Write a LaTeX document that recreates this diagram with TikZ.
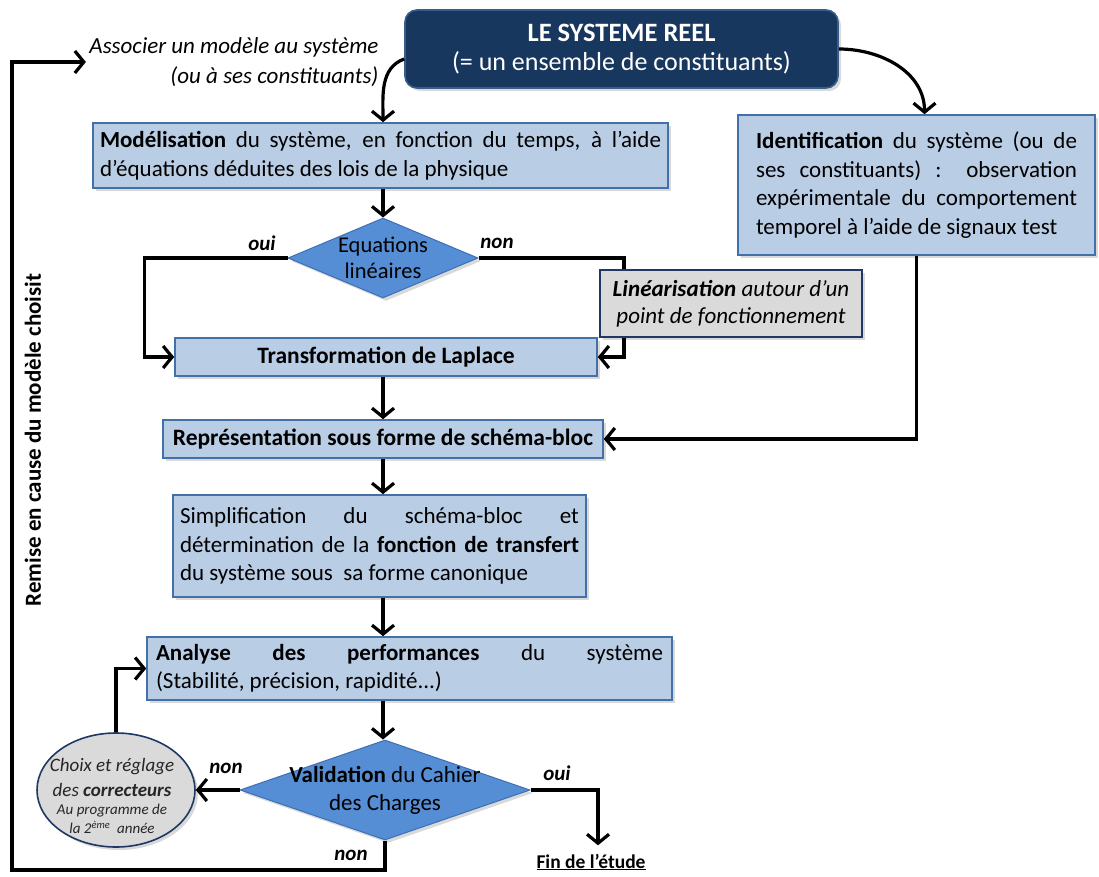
\documentclass[tikz,border=0pt]{standalone}
\usepackage{fontspec}
\setmainfont{Carlito}
\usetikzlibrary{arrows.meta,shapes.geometric,shadows}
\definecolor{navy}{HTML}{17375E}
\definecolor{navyedge}{HTML}{385D8A}
\definecolor{boxfill}{HTML}{B9CDE5}
\definecolor{boxedge}{HTML}{4470A8}
\definecolor{diafill}{HTML}{558ED5}
\definecolor{diaedge}{HTML}{3C6FB5}
\definecolor{greyfill}{HTML}{DADADA}
\definecolor{greyedge}{HTML}{1F3864}
\begin{document}
\begin{tikzpicture}[x=1pt,y=-1pt,
  shad/.style={drop shadow={shadow xshift=3pt,shadow yshift=-3pt,opacity=0.3}},
  bluebox/.style={draw=boxedge, fill=boxfill, line width=1.6pt, shad, inner ysep=0pt,
    font=\fontsize{23}{28.5}\selectfont},
  navybox/.style={draw=navyedge, fill=navy, line width=1.6pt, rounded corners=12pt, shad,
    text=white, align=center, font=\fontsize{26}{29}\selectfont},
  greybox/.style={draw=greyedge, fill=greyfill, line width=1.6pt, shad},
  decision/.style={diamond, draw=diaedge, fill=diafill, line width=1pt, inner sep=0pt, shad},
  dtext/.style={align=center},
  conn/.style={line width=3.2pt},
  arr/.style={line width=3.2pt, -{Straight Barb[length=9pt,width=22pt,line width=3.2pt]}},
  lab/.style={font=\fontsize{21}{24}\selectfont\bfseries\itshape}
]
\useasboundingbox (0,0) rectangle (1099,877);
\coordinate (col) at (383,0);
\coordinate (rx) at (624,0);
\coordinate (bl) at (12,870);

% nodes
\node[navybox, minimum width=433pt, minimum height=78pt] (sys) at (621.5,49)
  {{\fontsize{26.5}{29}\selectfont\bfseries LE SYSTEME REEL}\\(= un ensemble de constituants)};

\node[anchor=east, align=right, font=\fontsize{23}{30}\selectfont\itshape] (assoc) at (382,62)
  {Associer un modèle au système\\(ou à ses constituants)};

\node[bluebox, text width=561pt, inner xsep=7pt, minimum height=65pt, align=justify] (mod) at (380.5,155.5)
  {\textbf{Modélisation} du système, en fonction du temps, à l’aide\linebreak d’équations déduites des lois de la physique};

\node[bluebox, text width=321pt, inner xsep=18pt, minimum height=140pt, align=justify] (iden) at (916.5,185)
  {\textbf{Identification} du système (ou de\linebreak ses constituants) : observation\linebreak expérimentale du comportement\linebreak temporel à l’aide de signaux test};

\node[decision, minimum width=190pt, minimum height=80pt] (eq) at (383,258) {};
\node[dtext, font=\fontsize{22.5}{26}\selectfont] (eqt) at (eq) {Equations\\linéaires};

\node[greybox, minimum width=262pt, minimum height=67pt, inner sep=0pt, align=center,
  font=\fontsize{23}{27}\selectfont\itshape] (lin) at (731,303.5)
  {\textbf{Linéarisation} autour d’un\\point de fonctionnement};

\node[bluebox, minimum width=422pt, minimum height=38pt, font=\fontsize{23.5}{28}\selectfont\bfseries] (trans) at (386,357)
  {Transformation de Laplace};

\node[bluebox, minimum width=440pt, minimum height=38pt, font=\fontsize{23.5}{28}\selectfont\bfseries] (rep) at (383,439)
  {Représentation sous forme de schéma-bloc};

\node[bluebox, text width=399pt, inner xsep=7pt, minimum height=102pt, align=justify] (simp) at (379.5,546)
  {Simplification du schéma-bloc et\linebreak détermination de la \textbf{fonction de transfert}\linebreak du système sous\ \ sa forme canonique};

\node[bluebox, text width=507pt, inner xsep=9pt, minimum height=63pt, align=justify] (ana) at (409.5,668.5)
  {\textbf{Analyse des performances} du système\linebreak (Stabilité, précision, rapidité...)};

\node[decision, minimum width=290pt, minimum height=100pt] (val) at (385,790) {};
\node[dtext, font=\fontsize{23}{28}\selectfont] (valt) at (val) {\textbf{Validation} du Cahier\\des Charges};

\node[ellipse, greybox, minimum width=158pt, minimum height=114pt, inner sep=0pt] (ell) at (116,790) {};
\node[align=center, font=\fontsize{15}{21}\selectfont\itshape, text=black!85, inner sep=0pt] (ellt) at (112,796)
  {{\fontsize{19}{21}\selectfont Choix et réglage}\\[4pt]
   {\fontsize{19}{21}\selectfont des \textbf{correcteurs}}\\[-3pt]
   Au programme de\\[-2pt]
   la 2\textsuperscript{ème}\ \ année};

\node[font=\fontsize{19.5}{22}\selectfont\bfseries] (fin) at (591,862) {\underline{Fin de l’étude}};

\node[rotate=90, font=\fontsize{23}{26}\selectfont\bfseries] (remise) at (33,440)
  {Remise en cause du modèle choisit};

% labels
\node[lab] (l1) at (262,243) {oui};
\node[lab] (l2) at (497,243) {non};
\node[lab] (l3) at (226,768) {non};
\node[lab] (l4) at (557,773) {oui};
\node[lab] (l5) at (351,855) {non};

% connectors
\draw[arr] ([yshift=-10pt]sys.west) to[out=200,in=90] (mod.north -| col);
\draw[arr] (sys.east) to[out=0,in=90] ([xshift=8pt]iden.north);
\draw[arr] (mod.south -| col) -- (eq.north);
\draw[arr] (eq.west) -| ([xshift=-30pt]trans.west) -- (trans.west);
\draw[conn] (eq.east) -| (lin.north -| rx);
\draw[arr] (lin.south -| rx) |- (trans.east);
\draw[arr] (trans.south -| col) -- (rep.north -| col);
\draw[arr] (iden.south) |- (rep.east);
\draw[arr] (rep.south -| col) -- (simp.north -| col);
\draw[arr] (simp.south -| col) -- (ana.north -| col);
\draw[arr] (ana.south -| col) -- (val.north -| col);
\draw[arr] (val.west) -- (ell.east);
\draw[arr] (ell.north) |- (ana.west);
\draw[arr] (val.east) -| ([xshift=7pt,yshift=5pt]fin.north);
\draw[arr] (val.south) |- (bl) |- (assoc.west);
\end{tikzpicture}
\end{document}
